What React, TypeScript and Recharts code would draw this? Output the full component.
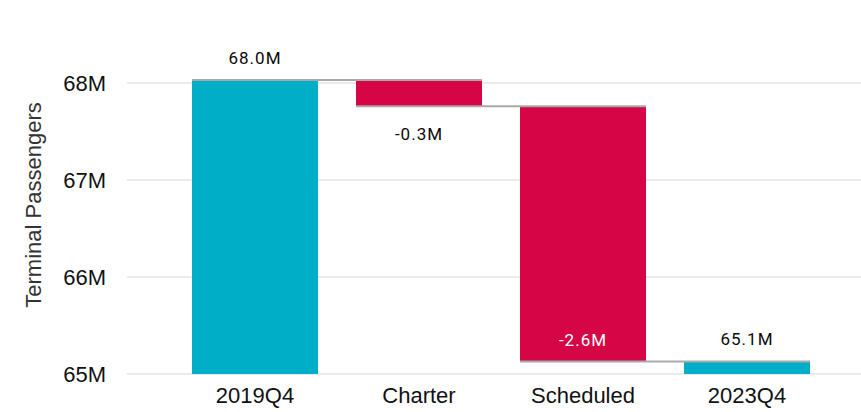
import React from 'react';
import { BarChart, Bar, XAxis, YAxis, CartesianGrid, LabelList } from 'recharts';

const categories = ['2019Q4', 'Charter', 'Scheduled', '2023Q4'];
const amounts = [68.03, -0.27, -2.63, 65.13];
const kinds = ['total', 'delta', 'delta', 'total'];
const valueLabels = ['68.0M', '-0.3M', '-2.6M', '65.1M'];
const yTicks = [65, 66, 67, 68];

const Y_MIN = 65;
const Y_MAX = 68.546;

const TEAL = '#00AEC7';
const RED = '#D50546';
const CONNECTOR = '#A9A9A9';

const CHART_W = 861;
const CHART_H = 412;
const Y_AXIS_W = 127;
const PAD_L = 46;
const PAD_R = 32;
const BAR_W = 126;
const BAND = (CHART_W - Y_AXIS_W - PAD_L - PAD_R) / categories.length;
const GAP = BAND - BAR_W;

// build the waterfall rows from the amounts
let running = 0;
const data = categories.map((name, i) => {
  let lo: number;
  let hi: number;
  if (kinds[i] === 'total') {
    running = amounts[i];
    lo = Y_MIN;
    hi = amounts[i];
  } else {
    const start = running;
    running = running + amounts[i];
    lo = Math.min(start, running);
    hi = Math.max(start, running);
  }
  return { name, range: [lo, hi], amount: amounts[i], kind: kinds[i] };
});

const WaterfallBar = (props: any) => {
  const { x, y, width, height, payload, index } = props;
  const isDown = payload.kind === 'delta' && payload.amount < 0;
  const isUp = payload.kind === 'delta' && payload.amount > 0;
  const fill = isDown ? RED : TEAL;
  const top = y;
  const bottom = y + height;
  const startY = isUp ? bottom : top;
  const endY = isDown ? bottom : top;
  const last = index === data.length - 1;
  return (
    <g>
      <rect x={x} y={y} width={width} height={height} fill={fill} />
      {index > 0 && (
        <line x1={x} x2={x + width} y1={startY} y2={startY} stroke={CONNECTOR} strokeWidth={2} />
      )}
      {!last && (
        <line x1={x} x2={x + width + GAP} y1={endY} y2={endY} stroke={CONNECTOR} strokeWidth={2} />
      )}
    </g>
  );
};

const ValueLabel = (props: any) => {
  const { x, y, width, height, index } = props;
  const row = data[index];
  const cx = x + width / 2;
  let cy: number;
  let color = '#0a0a0a';
  if (row.kind === 'total') {
    cy = y - 22;
  } else if (height > 60) {
    cy = y + height - 21;
    color = '#fff';
  } else {
    cy = y + height + 28;
  }
  return (
    <text
      x={cx}
      y={cy}
      textAnchor="middle"
      dominantBaseline="central"
      fill={color}
      style={{ fontFamily: 'Roboto, sans-serif', fontSize: 17, fontWeight: 400, letterSpacing: 1 }}
    >
      {valueLabels[index]}
    </text>
  );
};

const AxisTitle = (props: any) => {
  const vb = props.viewBox;
  const cx = vb.x + 33;
  const cy = vb.y + vb.height / 2 + 3;
  return (
    <text
      x={cx}
      y={cy}
      transform={`rotate(-90 ${cx} ${cy})`}
      textAnchor="middle"
      dominantBaseline="central"
      fill="#333"
      style={{ fontFamily: '"Liberation Sans", Arial, sans-serif', fontSize: 22 }}
    >
      Terminal Passengers
    </text>
  );
};

export default function App() {
  return (
    <div style={{ position: 'absolute', left: 0, top: 0, background: '#fff' }}>
      <BarChart
        width={CHART_W}
        height={CHART_H}
        data={data}
        margin={{ top: 30, right: 0, left: 0, bottom: 0 }}
      >
        <CartesianGrid
          horizontal
          vertical={false}
          horizontalValues={yTicks}
          stroke="#EBEBEB"
          strokeWidth={2}
        />
        <XAxis
          dataKey="name"
          height={38}
          padding={{ left: PAD_L, right: PAD_R }}
          axisLine={false}
          tickLine={false}
          tickMargin={7}
          tick={{ fill: '#111', fontSize: 22, fontFamily: '"Liberation Sans", Arial, sans-serif' }}
          interval={0}
        />
        <YAxis
          width={Y_AXIS_W}
          domain={[Y_MIN, Y_MAX]}
          ticks={yTicks}
          allowDataOverflow
          axisLine={false}
          tickLine={false}
          tickMargin={15}
          tickFormatter={(v: number) => `${v}M`}
          tick={{ fill: '#111', fontSize: 22, fontFamily: '"Liberation Sans", Arial, sans-serif' }}
          label={{ content: AxisTitle }}
        />
        <Bar dataKey="range" barSize={BAR_W} shape={WaterfallBar} isAnimationActive={false}>
          <LabelList dataKey="range" content={ValueLabel} />
        </Bar>
      </BarChart>
    </div>
  );
}
